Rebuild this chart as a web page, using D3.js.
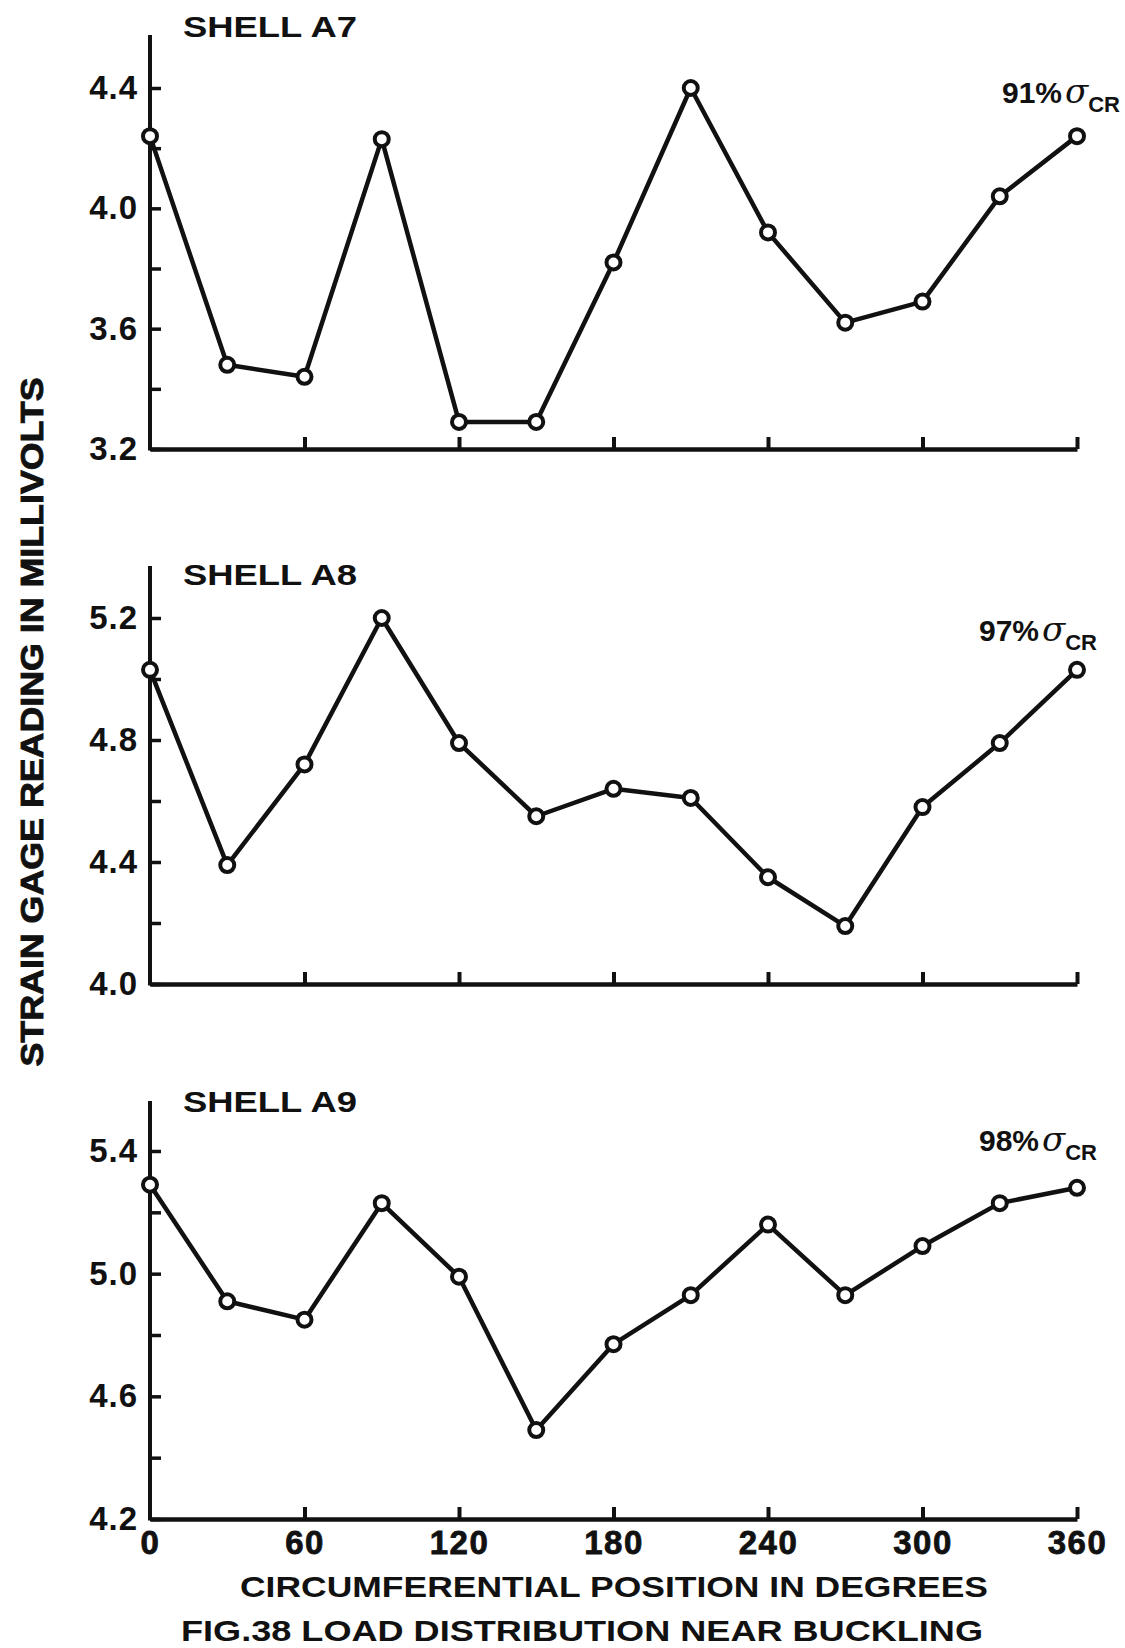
<!DOCTYPE html>
<html>
<head>
<meta charset="utf-8">
<script src="https://cdn.jsdelivr.net/npm/d3@7/dist/d3.min.js"></script>
<style>
  html, body { margin: 0; padding: 0; background: #fff; }
  svg { display: block; }
  text { font-family: "Liberation Sans", "DejaVu Sans", sans-serif; font-weight: bold; fill: #111; }
</style>
</head>
<body>
<script>
// ---------------- DATA ----------------
const degrees = [0, 30, 60, 90, 120, 150, 180, 210, 240, 270, 300, 330, 360];
const shellA7 = [4.24, 3.48, 3.44, 4.23, 3.29, 3.29, 3.82, 4.40, 3.92, 3.62, 3.69, 4.04, 4.24];
const shellA8 = [5.03, 4.39, 4.72, 5.20, 4.79, 4.55, 4.64, 4.61, 4.35, 4.19, 4.58, 4.79, 5.03];
const shellA9 = [5.29, 4.91, 4.85, 5.23, 4.99, 4.49, 4.77, 4.93, 5.16, 4.93, 5.09, 5.23, 5.28];
const panelTitles = ["SHELL A7", "SHELL A8", "SHELL A9"];
const loadPercents = ["91%", "97%", "98%"];
const yDomainA7 = [3.2, 4.4];
const yDomainA8 = [4.0, 5.2];
const yDomainA9 = [4.2, 5.4];
const yTicksA7 = [3.2, 3.4, 3.6, 3.8, 4.0, 4.2, 4.4];
const yTicksA8 = [4.0, 4.2, 4.4, 4.6, 4.8, 5.0, 5.2];
const yTicksA9 = [4.2, 4.4, 4.6, 4.8, 5.0, 5.2, 5.4];
const yTickLabelsA7 = ["3.2", "3.6", "4.0", "4.4"];
const yTickLabelsA8 = ["4.0", "4.4", "4.8", "5.2"];
const yTickLabelsA9 = ["4.2", "4.6", "5.0", "5.4"];
const xTicks = [60, 120, 180, 240, 300, 360];
const xTickLabels = ["0", "60", "120", "180", "240", "300", "360"];
const xTitle = "CIRCUMFERENTIAL POSITION IN DEGREES";
const yTitle = "STRAIN GAGE READING IN MILLIVOLTS";
const figTitle = "FIG.38 LOAD DISTRIBUTION NEAR BUCKLING";

// ---------------- LAYOUT ----------------
const W = 1125, H = 1648;
const svg = d3.select("body").append("svg").attr("width", W).attr("height", H);

const x = d3.scaleLinear().domain([0, 360]).range([150, 1077]);

const panels = [
  { values: shellA7, domain: yDomainA7, ticks: yTicksA7, labels: yTickLabelsA7,
    top: 88, bottom: 449, axisTop: 35, titleY: 37, annY: 103, annX: 1120 },
  { values: shellA8, domain: yDomainA8, ticks: yTicksA8, labels: yTickLabelsA8,
    top: 618, bottom: 984, axisTop: 566, titleY: 585, annY: 641, annX: 1097 },
  { values: shellA9, domain: yDomainA9, ticks: yTicksA9, labels: yTickLabelsA9,
    top: 1151, bottom: 1519, axisTop: 1101, titleY: 1112, annY: 1151, annX: 1097 }
];

const INK = "#111";

panels.forEach((p, i) => {
  const y = d3.scaleLinear().domain(p.domain).range([p.bottom, p.top]);
  const g = svg.append("g");

  // y axis
  const yAxis = d3.axisLeft(y)
    .tickValues(p.ticks)
    .tickSizeInner(-11)
    .tickSizeOuter(0)
    .tickPadding(12)
    .tickFormat(d => {
      const s = d.toFixed(1);
      return p.labels.includes(s) ? s : "";
    });
  const ya = g.append("g").attr("transform", `translate(${x(0)},0)`).call(yAxis);
  ya.select(".domain").remove();
  ya.selectAll(".tick line").attr("stroke", INK).attr("stroke-width", 3.5);
  ya.selectAll(".tick text").attr("font-size", 33).attr("fill", INK)
    .attr("font-family", "Liberation Sans, sans-serif").attr("font-weight", "bold")
    .attr("letter-spacing", 1);
  // extended vertical axis line
  g.append("line")
    .attr("x1", x(0)).attr("x2", x(0))
    .attr("y1", p.axisTop).attr("y2", p.bottom + 1.5)
    .attr("stroke", INK).attr("stroke-width", 4);

  // x axis
  const isLast = i === panels.length - 1;
  const xAxis = d3.axisBottom(x)
    .tickValues(isLast ? [0].concat(xTicks) : xTicks)
    .tickSizeInner(-12)
    .tickSizeOuter(0)
    .tickPadding(12)
    .tickFormat((d) => isLast ? xTickLabels[[0].concat(xTicks).indexOf(d)] : "");
  const xa = g.append("g").attr("transform", `translate(0,${p.bottom})`).call(xAxis);
  xa.select(".domain").attr("stroke", INK).attr("stroke-width", 4.5);
  xa.selectAll(".tick line").attr("stroke", INK).attr("stroke-width", 4)
    .filter(d => d === 0).remove();
  xa.selectAll(".tick text").attr("font-size", 33).attr("fill", INK)
    .attr("font-family", "Liberation Sans, sans-serif").attr("font-weight", "normal")
    .attr("stroke", INK).attr("stroke-width", 0.8).attr("letter-spacing", 1.5);

  // line
  const pts = degrees.map((d, k) => [d, p.values[k]]);
  const line = d3.line().x(d => x(d[0])).y(d => y(d[1]));
  g.append("path").datum(pts)
    .attr("d", line)
    .attr("fill", "none")
    .attr("stroke", INK)
    .attr("stroke-width", 4.5)
    .attr("stroke-linejoin", "round");

  // markers
  g.selectAll("circle.pt").data(pts).join("circle")
    .attr("class", "pt")
    .attr("cx", d => x(d[0])).attr("cy", d => y(d[1]))
    .attr("r", 7)
    .attr("fill", "#fff")
    .attr("stroke", INK)
    .attr("stroke-width", 4);

  // panel title
  g.append("text")
    .attr("x", 183).attr("y", p.titleY)
    .attr("font-size", 30)
    .attr("textLength", 174).attr("lengthAdjust", "spacingAndGlyphs")
    .text(panelTitles[i]);

  // load annotation
  const ann = g.append("text")
    .attr("x", p.annX).attr("y", p.annY)
    .attr("text-anchor", "end")
    .attr("font-size", 30);
  ann.append("tspan").text(loadPercents[i]);
  ann.append("tspan").attr("font-style", "italic").attr("font-size", 34)
    .attr("font-weight", "normal")
    .attr("font-family", "DejaVu Serif, serif").attr("dx", 3).text("σ");
  ann.append("tspan").attr("font-size", 22).attr("dy", 9).text("CR");
});

// axis titles
svg.append("text")
  .attr("transform", "translate(43,722) rotate(-90)")
  .attr("text-anchor", "middle")
  .attr("font-size", 32)
  .attr("font-weight", "normal")
  .attr("stroke", INK).attr("stroke-width", 0.9)
  .attr("textLength", 689).attr("lengthAdjust", "spacingAndGlyphs")
  .text(yTitle);

svg.append("text")
  .attr("x", 614).attr("y", 1597)
  .attr("text-anchor", "middle")
  .attr("font-size", 30)
  .attr("textLength", 748).attr("lengthAdjust", "spacingAndGlyphs")
  .text(xTitle);

svg.append("text")
  .attr("x", 582).attr("y", 1641)
  .attr("text-anchor", "middle")
  .attr("font-size", 30)
  .attr("textLength", 802).attr("lengthAdjust", "spacingAndGlyphs")
  .text(figTitle);
</script>
</body>
</html>
